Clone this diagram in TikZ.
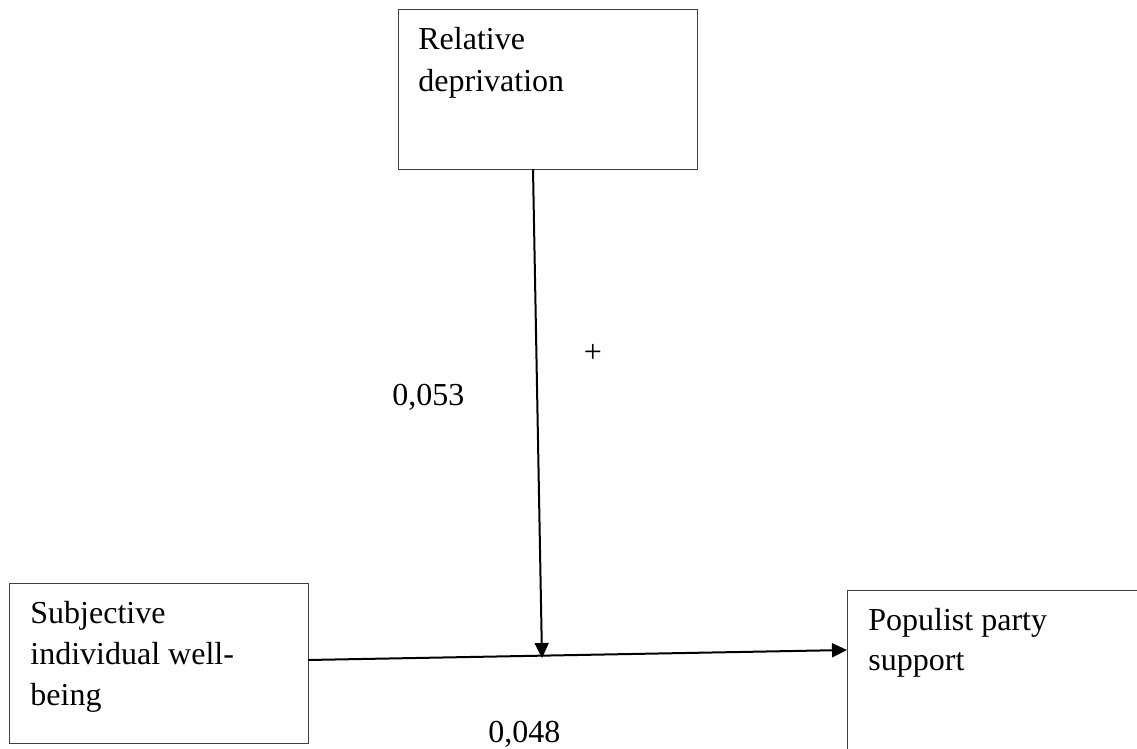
\documentclass[tikz,border=0pt]{standalone}
\usepackage{fontspec}
\setmainfont{Liberation Serif}
\usetikzlibrary{arrows.meta}
\begin{document}
\begin{tikzpicture}[x=0.5pt,y=-0.5pt,
  box/.style={draw=black!75, line width=0.6pt, inner sep=0pt, anchor=north west},
  lbl/.style={font=\fontsize{16}{20.5}\selectfont, inner sep=0pt, align=left, anchor=base west},
  conn/.style={line width=1pt, -{Triangle[length=7.5pt,width=7pt]}}]
\useasboundingbox (0,0) rectangle (1137,749);
\clip (0,0) rectangle (1137,749);
% boxes
\node[box, minimum width=149.5pt, minimum height=80pt] (rd) at (398,9) {};
\node[box, minimum width=149.5pt, minimum height=80pt] (sw) at (9,583) {};
\node[box, minimum width=200pt, minimum height=100pt] (pp) at (847,590) {};
% box texts (base = last line)
\node[lbl, font=\fontsize{16}{21}\selectfont] (rdt) at (418,92) {Relative\\deprivation};
\node[lbl, font=\fontsize{16}{20.5}\selectfont] (swt) at (30,705) {Subjective\\individual well-\\being};
\node[lbl, font=\fontsize{16}{20}\selectfont] (ppt) at (868,670) {Populist party\\support};
% connector ends
\coordinate (v1) at (533,169);
\coordinate (j) at (542,658);
\coordinate (h1) at (308,660);
\coordinate (h2) at (847,650);
\draw[conn] (v1) -- (j);
\draw[conn] (h1) -- (h2);
% labels
\node[lbl] (l1) at (392,405) {0,053};
\node[lbl] (l2) at (488,742) {0,048};
\node[font=\fontsize{16}{20}\selectfont, inner sep=0pt] (plus) at (593,353) {+};
\end{tikzpicture}
\end{document}
